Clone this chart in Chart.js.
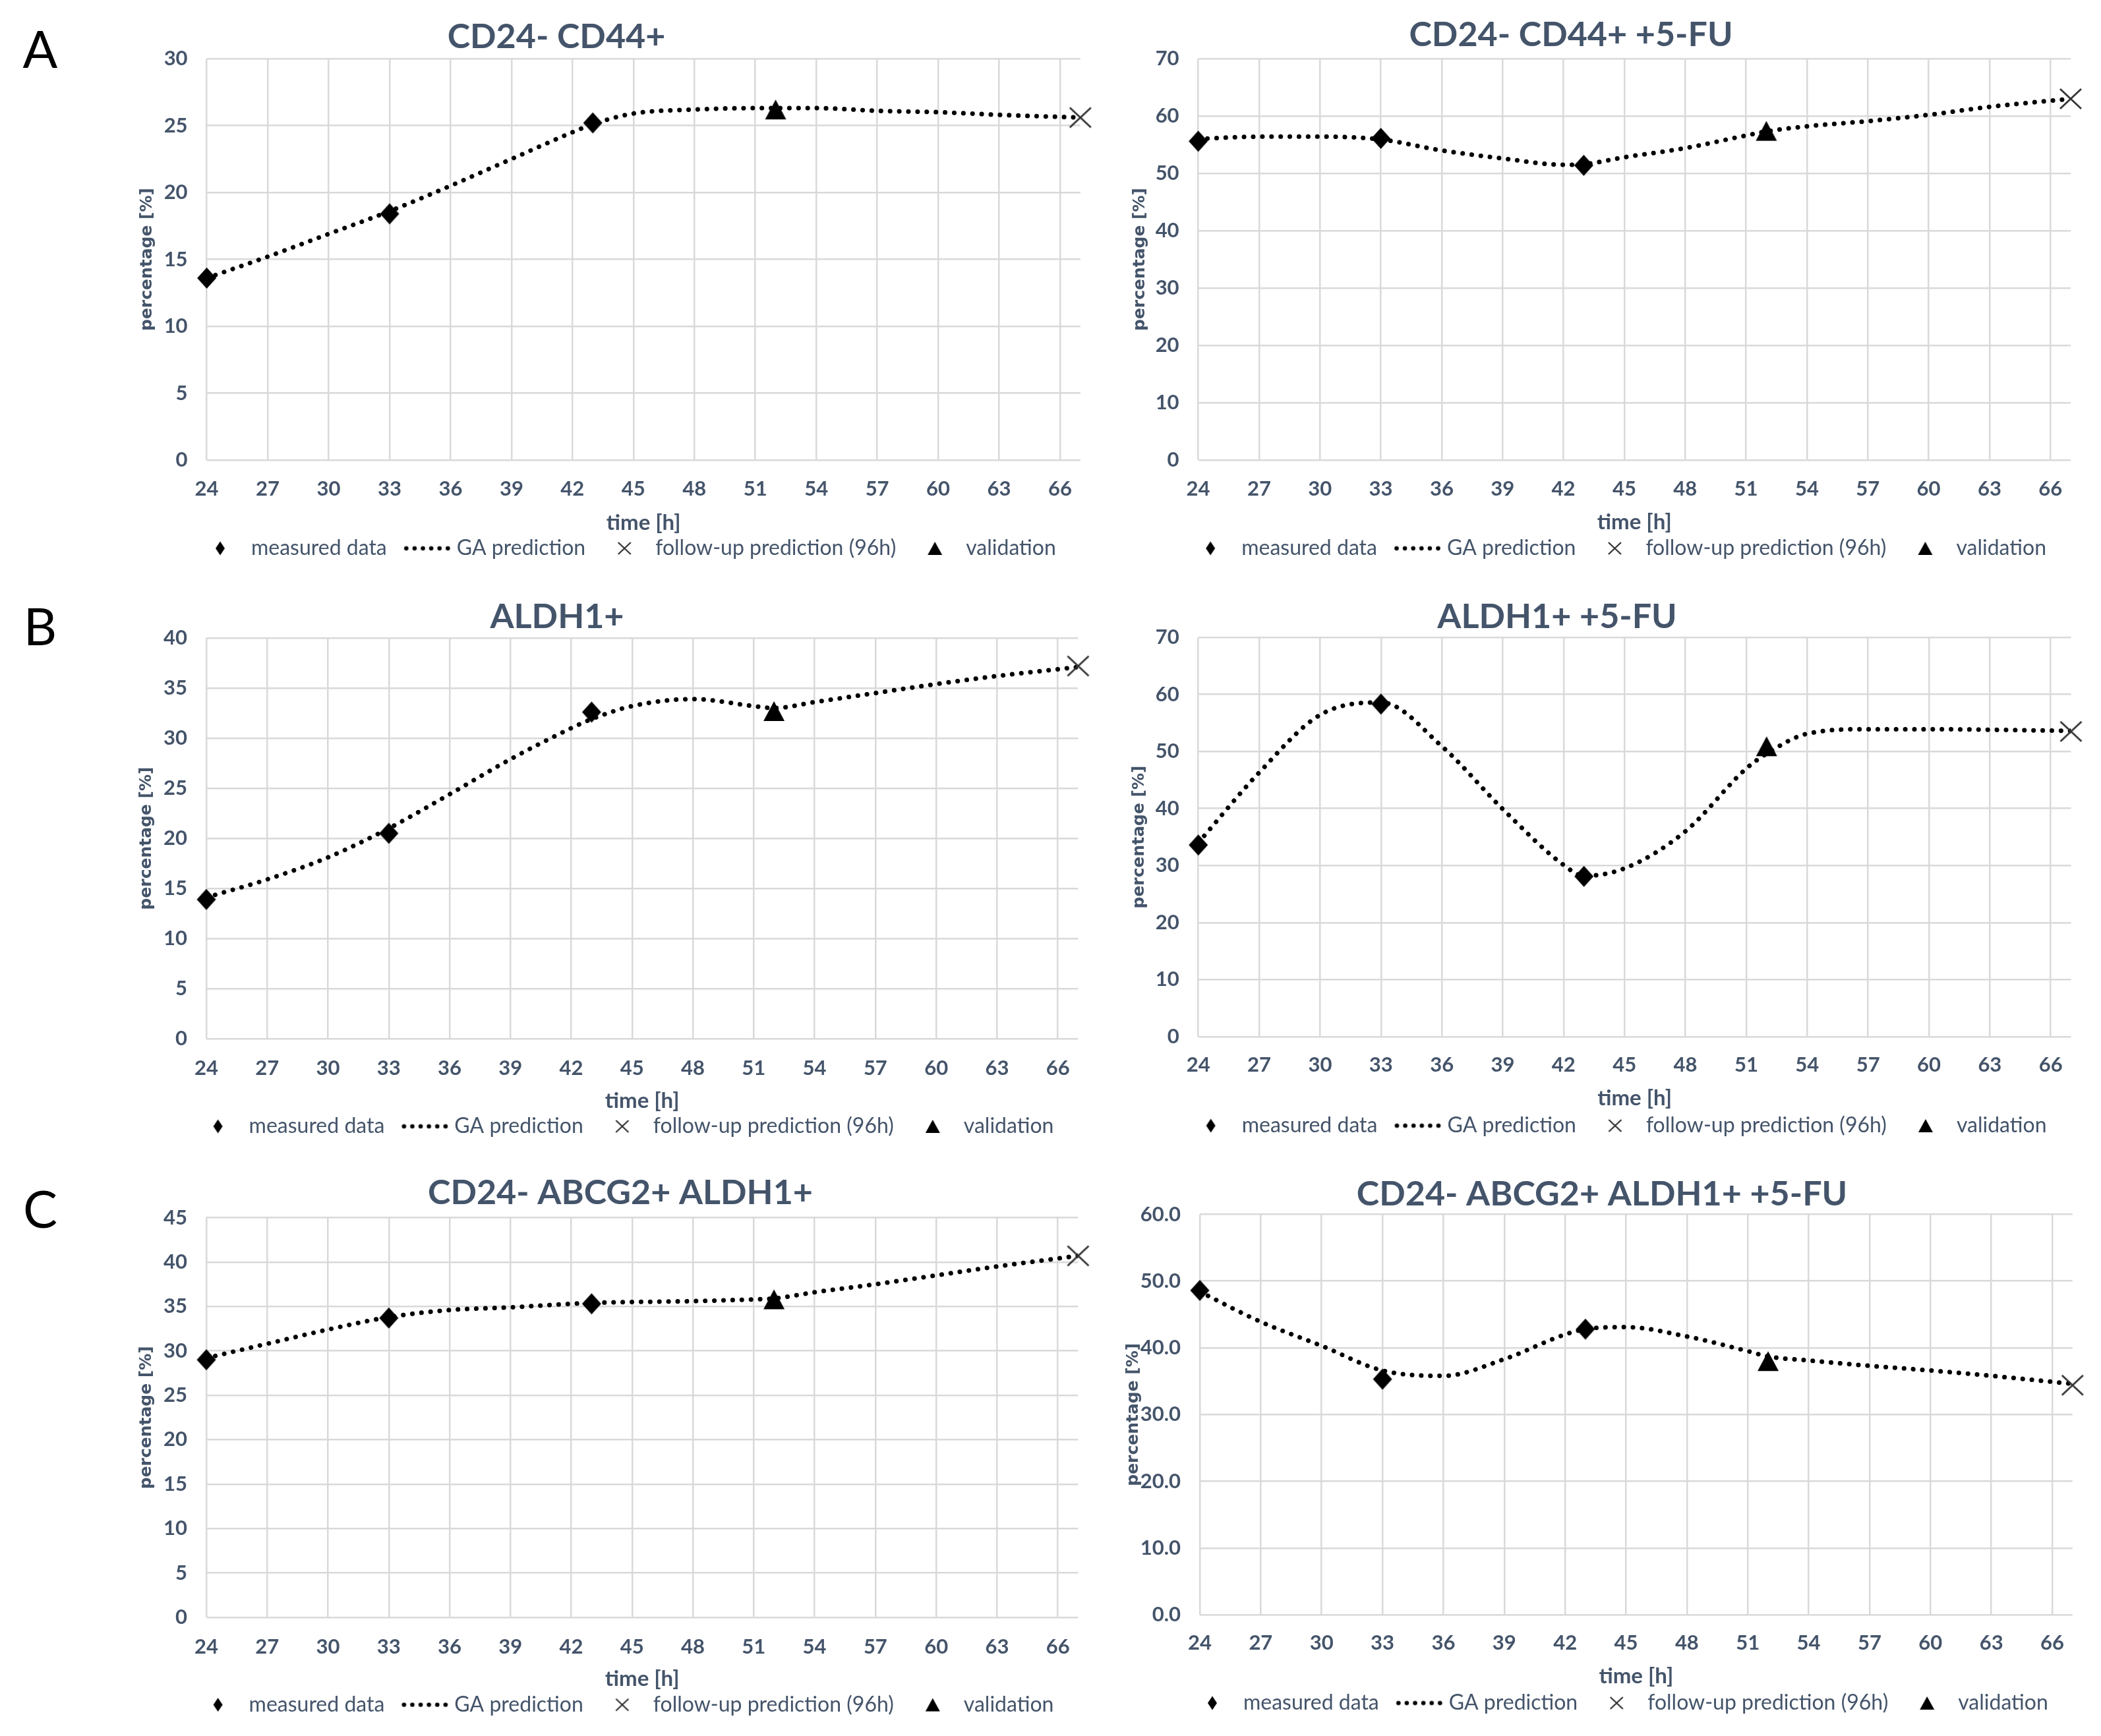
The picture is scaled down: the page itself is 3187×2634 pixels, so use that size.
<!DOCTYPE html>
<html>
<head>
<meta charset="utf-8">
<script src="https://cdn.jsdelivr.net/npm/chart.js@4.4.0/dist/chart.umd.min.js"></script>
<style>
html, body { margin: 0; padding: 0; background: #ffffff; }
body { width: 3187px; height: 2634px; position: relative; overflow: hidden; }
canvas { position: absolute; }
.panel-letter { position: absolute; width: 100px; text-align: center; font-family: Lato, 'Open Sans', sans-serif; font-size: 78px; line-height: 78px; color: #000; }
</style>
</head>
<body>
<div class="panel-letter" style="left:11px; top:34px;">A</div>
<div class="panel-letter" style="left:11px; top:910px;">B</div>
<div class="panel-letter" style="left:11px; top:1794px;">C</div>
<script>
// ---------------- DATA ----------------
const panelTitles = [
  'CD24- CD44+',
  'CD24- CD44+ +5-FU',
  'ALDH1+',
  'ALDH1+ +5-FU',
  'CD24- ABCG2+ ALDH1+',
  'CD24- ABCG2+ ALDH1+ +5-FU'
];
const seriesNames = ['measured data', 'GA prediction', 'follow-up prediction (96h)', 'validation'];
const xAxisTitle = 'time [h]';
const yAxisTitle = 'percentage [%]';

const xTickValues = [24, 27, 30, 33, 36, 39, 42, 45, 48, 51, 54, 57, 60, 63, 66];
const xMin = 24;
const xMax = 67;

const measuredTimes = [24, 33, 43];
const validationTimes = [52];
const followUpTimes = [67];
const gaTimes = [24, 27, 30, 33, 36, 39, 42, 43, 45, 48, 51, 52, 54, 57, 60, 63, 67];

// Panel A left: CD24- CD44+
const measuredA1 = [13.6, 18.4, 25.2];
const validationA1 = [26.2];
const followUpA1 = [25.6];
const gaA1 = [13.6, 15.2, 16.9, 18.6, 20.5, 22.5, 24.5, 25.1, 25.9, 26.2, 26.3, 26.3, 26.3, 26.1, 26.0, 25.8, 25.6];
const yTicksA1 = [0, 5, 10, 15, 20, 25, 30];

// Panel A right: CD24- CD44+ +5-FU
const measuredA2 = [55.6, 56.1, 51.4];
const validationA2 = [57.4];
const followUpA2 = [63.0];
const gaA2 = [56.0, 56.4, 56.4, 55.9, 54.0, 52.6, 51.5, 51.6, 52.8, 54.4, 56.6, 57.3, 58.2, 59.1, 60.2, 61.6, 63.0];
const yTicksA2 = [0, 10, 20, 30, 40, 50, 60, 70];

// Panel B left: ALDH1+
const measuredB1 = [13.9, 20.5, 32.6];
const validationB1 = [32.7];
const followUpB1 = [37.2];
const gaB1 = [14.1, 15.9, 18.1, 21.0, 24.4, 27.9, 31.0, 31.9, 33.2, 33.9, 33.2, 33.0, 33.6, 34.5, 35.4, 36.2, 37.1];
const yTicksB1 = [0, 5, 10, 15, 20, 25, 30, 35, 40];

// Panel B right: ALDH1+ +5-FU
const measuredB2 = [33.6, 58.3, 28.1];
const validationB2 = [50.9];
const followUpB2 = [53.5];
const gaB2 = [34.0, 46.3, 56.4, 58.6, 50.9, 39.9, 30.1, 28.2, 29.5, 36.0, 47.0, 49.6, 53.1, 53.9, 53.9, 53.8, 53.6];
const yTicksB2 = [0, 10, 20, 30, 40, 50, 60, 70];

// Panel C left: CD24- ABCG2+ ALDH1+
const measuredC1 = [29.0, 33.7, 35.3];
const validationC1 = [35.8];
const followUpC1 = [40.7];
const gaC1 = [29.2, 30.8, 32.4, 33.8, 34.6, 34.9, 35.3, 35.4, 35.5, 35.6, 35.8, 35.9, 36.6, 37.5, 38.5, 39.5, 40.7];
const yTicksC1 = [0, 5, 10, 15, 20, 25, 30, 35, 40, 45];

// Panel C right: CD24- ABCG2+ ALDH1+ +5-FU
const measuredC2 = [48.6, 35.3, 42.8];
const validationC2 = [38.0];
const followUpC2 = [34.4];
const gaC2 = [48.4, 43.9, 40.3, 36.6, 35.8, 38.3, 42.0, 42.8, 43.1, 41.7, 39.5, 38.7, 38.1, 37.3, 36.6, 35.8, 34.6];
const yTicksC2 = [0, 10, 20, 30, 40, 50, 60];

const measuredAll = [measuredA1, measuredA2, measuredB1, measuredB2, measuredC1, measuredC2];
const validationAll = [validationA1, validationA2, validationB1, validationB2, validationC1, validationC2];
const followUpAll = [followUpA1, followUpA2, followUpB1, followUpB2, followUpC1, followUpC2];
const gaAll = [gaA1, gaA2, gaB1, gaB2, gaC1, gaC2];
const yTicksAll = [yTicksA1, yTicksA2, yTicksB1, yTicksB2, yTicksC1, yTicksC2];
const yDecimals = [0, 0, 0, 0, 0, 1];

// ---------------- LAYOUT / STYLE ----------------
// L/T/R/B: canvas box; pl/pr/pt/pb: plot area; tc/ty: title centre; tickY, xty, legY: row centres; yTitleX: y-title centre
const layouts = [
  {L: 28,   T: 0,    R: 1660, B: 870,  pl: 313.6,  pr: 1638.8, pt: 89,     pb: 698,  tc: 844,  ty: 56,   tickY: 742,    xty: 793,  legY: 832,    yTitleX: 223},
  {L: 1606, T: 0,    R: 3160, B: 870,  pl: 1817.6, pr: 3141,   pt: 89,     pb: 698,  tc: 2383, ty: 53,   tickY: 742,    xty: 792,  legY: 832,    yTitleX: 1729.5},
  {L: 30,   T: 870,  R: 1660, B: 1750, pl: 313,    pr: 1635.4, pt: 968,    pb: 1576, tc: 845,  ty: 936,  tickY: 1621,   xty: 1670, legY: 1709,   yTitleX: 222},
  {L: 1564, T: 870,  R: 3160, B: 1750, pl: 1817.7, pr: 3141.5, pt: 967,    pb: 1573, tc: 2362, ty: 936,  tickY: 1616,   xty: 1666, legY: 1708,   yTitleX: 1728},
  {L: 200,  T: 1750, R: 1680, B: 2634, pl: 313,    pr: 1635.4, pt: 1847.5, pb: 2454, tc: 941,  ty: 1810, tickY: 2498.6, xty: 2547, legY: 2586.6, yTitleX: 222},
  {L: 1690, T: 1750, R: 3170, B: 2634, pl: 1820,   pr: 3143.8, pt: 1842.5, pb: 2450, tc: 2430, ty: 1812, tickY: 2493,   xty: 2543, legY: 2584,   yTitleX: 1719}
];

const textColor = '#44546A';
const gridColor = '#D9D9D9';
const titleSize = 52, tickSize = 31, legSize = 32, xTitleSize = 33, yTitleSize = 25;
const legPad = 37;
const legBox = 53;

function makeImg(w, h, draw) {
  const c = document.createElement('canvas');
  c.width = w; c.height = h;
  draw(c.getContext('2d'), w, h);
  return c;
}
function diamondPath(g, cx, cy, w, h) {
  g.fillStyle = '#000';
  g.beginPath(); g.moveTo(cx, cy - h / 2); g.lineTo(cx + w / 2, cy); g.lineTo(cx, cy + h / 2); g.lineTo(cx - w / 2, cy); g.closePath(); g.fill();
}
function trianglePath(g, cx, cy, w, h) {
  g.fillStyle = '#000';
  g.beginPath(); g.moveTo(cx, cy - h / 2); g.lineTo(cx + w / 2, cy + h / 2); g.lineTo(cx - w / 2, cy + h / 2); g.closePath(); g.fill();
}
function crossPath(g, cx, cy, w, h, lw) {
  g.strokeStyle = '#333'; g.lineWidth = lw;
  g.beginPath();
  g.moveTo(cx - w / 2, cy - h / 2); g.lineTo(cx + w / 2, cy + h / 2);
  g.moveTo(cx + w / 2, cy - h / 2); g.lineTo(cx - w / 2, cy + h / 2);
  g.stroke();
}
function dotsPath(g, cx, cy, w, n) {
  g.fillStyle = '#000';
  const step = (w - 7) / (n - 1);
  for (let k = 0; k < n; k++) { g.beginPath(); g.arc(cx - w / 2 + 3.5 + k * step, cy, 3.3, 0, Math.PI * 2); g.fill(); }
}
// marker image with optional horizontal offset of the glyph from the image centre
function glyph(w, h, off, fn) {
  const W = Math.ceil(w + 4 + 2 * Math.abs(off)), H = Math.ceil(h + 4);
  return makeImg(W, H, (g) => fn(g, W / 2 + off, H / 2));
}
const diamondImg = glyph(29, 32, 0, (g, cx, cy) => diamondPath(g, cx, cy, 29, 32));
const triangleImg = glyph(32, 30, 0, (g, cx, cy) => trianglePath(g, cx, cy, 32, 30));
const crossImg = glyph(32, 30, 0, (g, cx, cy) => crossPath(g, cx, cy, 32, 30, 2.8));
const mOff = legBox / 2 + legSize / 2 - 47;
const legendImgs = [
  glyph(14, 21, mOff, (g, cx, cy) => diamondPath(g, cx, cy, 14, 21)),
  glyph(70, 9, mOff + 2, (g, cx, cy) => dotsPath(g, cx, cy, 70, 6)),
  glyph(19, 18, mOff, (g, cx, cy) => crossPath(g, cx, cy, 19, 18, 2.3)),
  glyph(22, 20, mOff, (g, cx, cy) => trianglePath(g, cx, cy, 22, 20))
];

function pts(xs, ys) { return xs.map((x, k) => ({x: x, y: ys[k]})); }

function makeChart(i) {
  const lay = layouts[i];
  const W = lay.R - lay.L, H = lay.B - lay.T;
  const cv = document.createElement('canvas');
  cv.width = W; cv.height = H;
  cv.style.left = lay.L + 'px'; cv.style.top = lay.T + 'px';
  cv.style.width = W + 'px'; cv.style.height = H + 'px';
  document.body.appendChild(cv);

  // full-width boxes (title, legend) span [L+padL, pr]; choose padL so the title centre matches
  const padL = (2 * lay.tc - lay.pr) - lay.L;
  const boxLeft = lay.L + padL;
  const legendTop = lay.legY - legPad - legSize / 2;
  const xAxisH = legendTop - lay.pb;
  const legendBottom = legendTop + legSize + legPad + 10;
  const xTitlePadBottom = legendTop - xTitleSize * 1.2 / 2 - lay.xty;
  const yTicks = yTicksAll[i];
  const dec = yDecimals[i];

  new Chart(cv, {
    type: 'scatter',
    data: {
      datasets: [
        {label: seriesNames[0], data: pts(measuredTimes, measuredAll[i]), pointStyle: diamondImg, pointRadius: 15, order: 0, clip: false},
        {label: seriesNames[1], data: pts(gaTimes, gaAll[i]), showLine: true, pointRadius: 0, borderColor: '#000', backgroundColor: '#000',
         borderWidth: 7, borderDash: [0.1, 13.8], borderCapStyle: 'round', cubicInterpolationMode: 'monotone', order: 10},
        {label: seriesNames[2], data: pts(followUpTimes, followUpAll[i]), pointStyle: crossImg, pointRadius: 17, order: 0, clip: false},
        {label: seriesNames[3], data: pts(validationTimes, validationAll[i]), pointStyle: triangleImg, pointRadius: 16, order: 0, clip: false}
      ]
    },
    options: {
      responsive: false,
      maintainAspectRatio: false,
      animation: false,
      events: [],
      layout: {padding: {left: padL, top: 0, right: lay.R - lay.pr, bottom: lay.B - legendBottom}},
      scales: {
        x: {
          type: 'linear', min: xMin, max: xMax,
          afterBuildTicks: (s) => { s.ticks = xTickValues.map(v => ({value: v})); },
          afterFit: (s) => { s.height = xAxisH; },
          ticks: {padding: lay.tickY - lay.pb - tickSize * 1.2 / 2, maxRotation: 0, autoSkip: false, color: textColor,
                  font: {family: 'Lato', size: tickSize, weight: 'bold'}},
          grid: {color: gridColor, lineWidth: 2.5, drawTicks: false},
          border: {display: false},
          title: {display: true, text: xAxisTitle, color: textColor, font: {family: 'Lato', size: xTitleSize, weight: 'bold', lineHeight: 1.2},
                  padding: {top: 0, bottom: xTitlePadBottom}}
        },
        y: {
          type: 'linear', min: yTicks[0], max: yTicks[yTicks.length - 1],
          afterBuildTicks: (s) => { s.ticks = yTicks.map(v => ({value: v})); },
          afterFit: (s) => { s.width = lay.pl - boxLeft; },
          ticks: {padding: 29, color: textColor, font: {family: 'Lato', size: tickSize, weight: 'bold'},
                  callback: (v) => Number(v).toFixed(dec)},
          grid: {color: gridColor, lineWidth: 2.5, drawTicks: false},
          border: {display: false},
          title: {display: true, text: yAxisTitle, color: textColor, font: {family: "'DejaVu Sans', Verdana, sans-serif", size: yTitleSize, weight: 'bold', lineHeight: 1},
                  padding: {top: lay.yTitleX - boxLeft - yTitleSize / 2, bottom: 0}}
        }
      },
      plugins: {
        tooltip: {enabled: false},
        title: {display: true, text: panelTitles[i], color: textColor, font: {family: 'Lato', size: titleSize, weight: 'bold', lineHeight: 1},
                padding: {top: lay.ty - lay.T - titleSize / 2, bottom: lay.pt - lay.ty - titleSize / 2}},
        legend: {
          display: true, position: 'bottom', fullSize: true, align: 'end',
          labels: {
            usePointStyle: true, pointStyleWidth: legBox, padding: legPad, color: textColor,
            font: {family: 'Lato', size: legSize, weight: 'normal'},
            generateLabels: (chart) => chart.data.datasets.map((ds, k) => ({
              text: ds.label, pointStyle: legendImgs[k], fillStyle: '#000', strokeStyle: '#000',
              lineWidth: 0, hidden: false, datasetIndex: k, fontColor: textColor
            }))
          }
        }
      }
    }
  });
}

for (let i = 0; i < 6; i++) makeChart(i);
</script>
</body>
</html>
